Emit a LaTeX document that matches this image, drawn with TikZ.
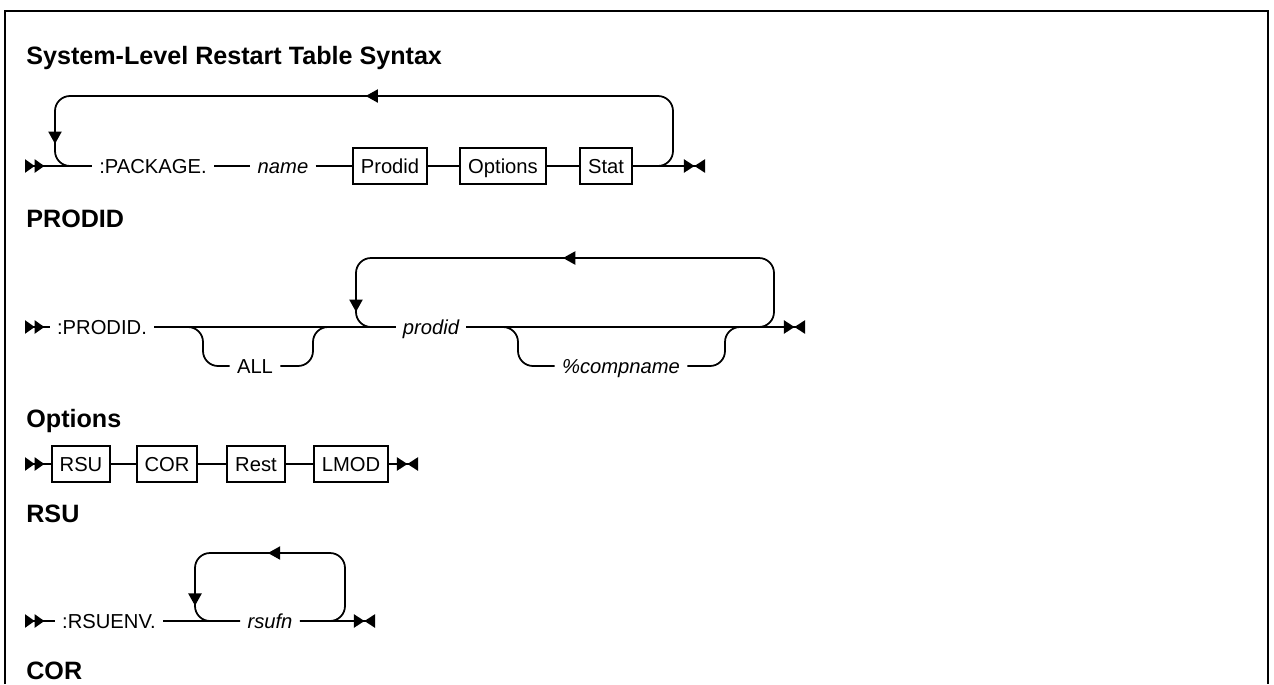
\documentclass[tikz,border=0pt]{standalone}
\usepackage{fontspec}
\setmainfont{Liberation Sans}
\usetikzlibrary{arrows.meta,decorations.markings,calc}

\begin{document}
\begin{tikzpicture}[
    x=0.02cm, y=-0.02cm,
    every node/.style={font=\fontsize{11.5pt}{14pt}\selectfont},
    heading/.style={anchor=base west, inner sep=0pt, font=\fontsize{14.3pt}{17pt}\selectfont\bfseries},
    word/.style={inner xsep=4pt, inner ysep=0pt, text height=8.2pt, text depth=0pt},
    var/.style={word, font=\fontsize{11.5pt}{14pt}\selectfont\itshape},
    box/.style={rectangle, draw, line width=1pt, inner xsep=4.5pt, inner ysep=0pt, text height=8.2pt, text depth=0pt, minimum height=20.5pt},
    rail/.style={line width=1pt},
    startmark/.style={rail, {Triangle[reversed,length=5.5pt,width=7.5pt]Triangle[reversed,length=5.5pt,width=7.5pt]}-},
    endmark/.style={rail, -{Triangle[length=6pt,width=7.5pt]Triangle[reversed,length=6pt,width=7.5pt]}},
    branch/.style={rail, rounded corners=0.3cm},
    loopline/.style 2 args={rail, rounded corners=0.3cm, postaction={decorate},
        decoration={markings,
            mark=at position #1 with {\arrow{Triangle[length=7pt,width=7.5pt]}},
            mark=at position #2 with {\arrow{Triangle[length=7pt,width=7.5pt]}}}}
]
\useasboundingbox (0,0) rectangle (1274,684);

% frame
\draw[line width=1.4pt] (5,684) -- (5,11) -- (1268,11) -- (1268,684);

% SYNTAX: package line
\node[heading] (title) at (26,64) {System-Level Restart Table Syntax};
\coordinate (s1) at (25,166);
\coordinate (e1) at (705,166);
\node[word] (pkg) at (153,166) {:PACKAGE.};
\node[var] (name) at (283,166) {name};
\node[box] (prodidbox) at (390,166) {Prodid};
\node[box] (optbox) at (503,166) {Options};
\node[box] (statbox) at (606,166) {Stat};

\draw[startmark] (s1) -- (pkg);
\draw[rail] (pkg) -- (name);
\draw[rail] (name) -- (prodidbox);
\draw[rail] (prodidbox) -- (optbox);
\draw[rail] (optbox) -- (statbox);
\draw[endmark] (statbox) -- (e1);
\coordinate (r1) at (673,96);
\coordinate (l1) at (55,166);
\draw[loopline={0.5}{0.935}] (statbox.east) -| (r1) -| (l1) -- (pkg.west);

% PRODID
\node[heading] (prodidhead) at (26,227) {PRODID};
\coordinate (s2) at (25,327);
\coordinate (e2) at (805,327);
\node[word] (pdkw) at (102,327) {:PRODID.};
\node[var] (prodidvar) at (431,327) {prodid};
\node[word] (allkw) at (255,366) {ALL};
\node[var] (compvar) at (621,366) {\%compname};

\draw[startmark] (s2) -- (pdkw);
\draw[rail] (pdkw) -- (prodidvar);
\draw[endmark] (prodidvar) -- (e2);
\coordinate (a1) at (203,327);
\coordinate (a2) at (313,327);
\draw[branch] (pdkw.east) -| (a1 |- allkw.west) -- (allkw.west);
\draw[branch] (allkw.east) -| (a2) -- (prodidvar.west);
\coordinate (c1) at (518,327);
\coordinate (c2) at (725,327);
\draw[branch] (prodidvar.east) -| (c1 |- compvar.west) -- (compvar.west);
\draw[branch] (compvar.east) -| (c2) -- ++(16,0);
\coordinate (r2) at (774,258);
\coordinate (l2) at (356,327);
\draw[loopline={0.655}{0.945}] (prodidvar.east) -| (r2) -| (l2) -- (prodidvar.west);

% Options
\node[heading] (opthead) at (26,427) {Options};
\coordinate (s3) at (25,464);
\coordinate (e3) at (418,464);
\node[box] (rsubox) at (81,464) {RSU};
\node[box] (corbox) at (167,464) {COR};
\node[box] (restbox) at (256,464) {Rest};
\node[box] (lmodbox) at (351,464) {LMOD};

\draw[startmark] (s3) -- (rsubox);
\draw[rail] (rsubox) -- (corbox);
\draw[rail] (corbox) -- (restbox);
\draw[rail] (restbox) -- (lmodbox);
\draw[endmark] (lmodbox) -- (e3);

% RSU
\node[heading] (rsuhead) at (26,522) {RSU};
\coordinate (s4) at (25,621);
\coordinate (e4) at (375,621);
\node[word] (rsukw) at (109,621) {:RSUENV.};
\node[var] (rsufnvar) at (270,621) {rsufn};

\draw[startmark] (s4) -- (rsukw);
\draw[rail] (rsukw) -- (rsufnvar);
\draw[endmark] (rsufnvar) -- (e4);
\coordinate (r4) at (345,553);
\coordinate (l4) at (195,621);
\draw[loopline={0.506}{0.846}] (rsufnvar.east) -| (r4) -| (l4) -- (rsufnvar.west);

% COR
\node[heading] (corhead) at (26,679) {COR};

\end{tikzpicture}
\end{document}
